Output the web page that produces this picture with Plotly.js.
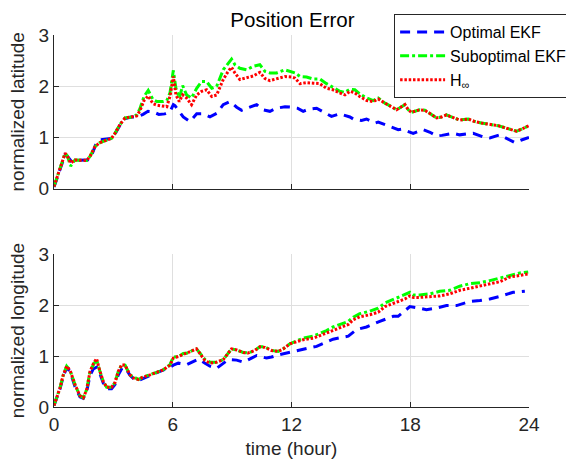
<!DOCTYPE html>
<html>
<head>
<meta charset="utf-8">
<script src="https://cdn.plot.ly/plotly-3.0.1.min.js"></script>
<style>html,body{margin:0;padding:0;background:#fff;}#chart{width:566px;height:459px;}</style>
</head>
<body>
<div id="chart"></div>
<script>
// ---------- DATA ----------
var seriesNames = ['Optimal EKF', 'Suboptimal EKF', 'H<sub>∞</sub>'];
var xTicks = [0, 6, 12, 18, 24];
var yTicks = [0, 1, 2, 3];

// Latitude (top panel)
var latTimeOpt = [0,0.3,0.56,0.7,0.9,1.1,1.4,1.7,1.9,2.1,2.3,2.6,2.9,3.1,3.35,3.6,3.9,4.2,4.5,4.75,5.0,5.3,5.6,5.86,6.03,6.11,6.28,6.53,6.87,7.21,7.54,7.88,8.22,8.55,8.89,9.23,9.48,9.9,10.24,10.57,10.91,11.25,11.67,12.0,12.3,12.59,12.85,13.27,13.77,14.02,14.44,14.95,15.12,15.54,15.79,16.21,16.38,16.8,16.97,17.39,17.56,17.9,18.15,18.65,19.0,19.33,19.6,20.17,20.5,20.93,21.18,21.77,22.02,22.52,22.86,23.28,23.62,24];
var latOpt = [0.03,0.37,0.66,0.62,0.52,0.55,0.55,0.56,0.65,0.85,0.95,0.96,0.98,1.08,1.25,1.37,1.40,1.40,1.45,1.51,1.50,1.45,1.46,1.50,1.64,1.62,1.54,1.40,1.31,1.46,1.46,1.40,1.47,1.64,1.70,1.59,1.53,1.59,1.64,1.54,1.51,1.57,1.60,1.59,1.57,1.51,1.55,1.57,1.46,1.41,1.46,1.40,1.36,1.33,1.36,1.28,1.30,1.24,1.21,1.15,1.16,1.12,1.08,1.15,1.10,1.03,1.04,1.08,1.05,1.07,1.08,1.00,0.99,1.05,0.99,0.90,0.95,1.0];

var latTime = [0,0.3,0.56,0.67,0.84,1.06,1.3,1.65,1.82,2.07,2.32,2.66,2.9,3.08,3.33,3.59,3.92,4.18,4.34,4.55,4.76,5.0,5.2,5.5,5.7,5.86,6.03,6.16,6.33,6.5,6.7,6.95,7.21,7.46,7.71,7.97,8.22,8.55,8.8,8.97,9.14,9.39,9.73,10.07,10.4,10.66,10.91,11.25,11.67,12.0,12.17,12.43,12.76,13.1,13.43,13.77,14.1,14.44,14.7,14.95,15.2,15.45,15.8,16.13,16.38,16.72,17.06,17.31,17.56,17.73,17.9,18.06,18.23,18.48,18.74,18.99,19.33,19.58,19.83,20.08,20.5,20.93,21.26,21.6,22.02,22.44,22.86,23.2,23.37,23.62,23.87,24];
var latSub = [0.04,0.37,0.69,0.64,0.44,0.56,0.55,0.55,0.63,0.82,0.9,0.95,0.98,1.08,1.25,1.38,1.40,1.44,1.56,1.8,1.92,1.74,1.70,1.70,1.72,1.87,2.31,1.96,1.77,2.01,1.83,1.77,1.96,2.09,2.09,1.96,2.0,2.32,2.45,2.53,2.42,2.35,2.32,2.39,2.42,2.29,2.26,2.26,2.32,2.28,2.26,2.19,2.18,2.14,2.14,2.05,1.98,1.90,1.88,1.94,1.93,1.85,1.77,1.72,1.77,1.67,1.60,1.54,1.60,1.64,1.54,1.49,1.51,1.54,1.53,1.47,1.38,1.40,1.44,1.40,1.34,1.36,1.31,1.28,1.26,1.23,1.18,1.14,1.12,1.16,1.21,1.23];
var latHinf = [0.04,0.37,0.69,0.64,0.50,0.56,0.55,0.55,0.63,0.82,0.9,0.95,0.98,1.08,1.25,1.38,1.40,1.42,1.52,1.72,1.81,1.66,1.63,1.61,1.60,1.80,2.19,1.83,1.70,1.83,1.77,1.64,1.83,1.90,1.93,1.80,1.83,2.13,2.29,2.37,2.26,2.13,2.16,2.20,2.27,2.15,2.11,2.15,2.19,2.18,2.16,2.05,2.07,2.06,2.05,1.96,1.93,1.87,1.83,1.90,1.87,1.80,1.72,1.70,1.75,1.67,1.60,1.54,1.60,1.64,1.54,1.49,1.51,1.54,1.53,1.47,1.38,1.40,1.44,1.40,1.34,1.36,1.31,1.28,1.26,1.23,1.18,1.14,1.12,1.16,1.21,1.23];

// Longitude (bottom panel)
var lonTimeOpt = [0,0.3,0.47,0.64,0.81,1.06,1.31,1.48,1.65,1.82,1.99,2.15,2.32,2.49,2.66,2.91,3.08,3.25,3.42,3.59,3.84,4.01,4.26,4.51,4.85,5.19,5.52,5.86,6.03,6.28,6.7,7.04,7.29,7.63,7.88,8.22,8.47,8.8,9.23,9.56,9.98,10.24,10.74,10.99,11.41,11.75,12.42,13.27,14.1,14.87,15.29,15.79,16.46,17.14,17.39,17.98,18.48,18.82,19.33,19.83,20.34,21.01,21.52,22.02,22.53,23.2,23.79];
var lonOpt = [0.03,0.35,0.60,0.77,0.70,0.40,0.20,0.17,0.30,0.62,0.75,0.78,0.65,0.47,0.36,0.36,0.44,0.63,0.75,0.78,0.62,0.56,0.52,0.56,0.61,0.66,0.71,0.78,0.82,0.86,0.83,0.90,0.94,0.86,0.80,0.76,0.83,0.93,0.92,0.88,0.96,1.01,0.96,0.98,1.03,1.06,1.12,1.19,1.33,1.39,1.52,1.57,1.68,1.78,1.78,1.97,1.94,1.91,1.94,1.99,1.99,2.07,2.09,2.12,2.17,2.25,2.27];

var lonTime = [0,0.3,0.47,0.64,0.81,1.06,1.31,1.48,1.65,1.82,1.99,2.15,2.32,2.49,2.66,2.91,3.08,3.25,3.42,3.59,3.84,4.01,4.26,4.51,4.85,5.19,5.52,5.86,6.03,6.28,6.53,6.78,7.04,7.2,7.37,7.63,7.88,8.22,8.55,8.8,8.97,9.23,9.56,9.81,10.15,10.4,10.66,10.99,11.33,11.58,11.92,12.34,12.59,13.1,13.43,13.77,14.1,14.53,14.87,15.12,15.45,15.96,16.38,16.72,17.06,17.39,17.73,17.98,18.15,18.48,18.99,19.49,20.0,20.5,21.01,21.52,22.02,22.53,23.03,23.54,23.96];
var lonSub = [0.03,0.37,0.63,0.80,0.72,0.44,0.22,0.18,0.34,0.70,0.83,0.93,0.70,0.50,0.39,0.39,0.48,0.70,0.83,0.82,0.63,0.59,0.54,0.59,0.63,0.68,0.73,0.83,0.98,0.99,1.05,1.06,1.12,1.14,1.06,0.93,0.88,0.88,0.93,1.06,1.14,1.12,1.07,1.06,1.11,1.18,1.18,1.11,1.09,1.14,1.24,1.31,1.35,1.39,1.44,1.50,1.57,1.63,1.68,1.76,1.83,1.88,1.94,2.04,2.10,2.16,2.22,2.25,2.20,2.20,2.22,2.27,2.29,2.37,2.42,2.44,2.48,2.53,2.59,2.63,2.65];
var lonHinf = [0.03,0.37,0.63,0.80,0.72,0.44,0.22,0.18,0.34,0.70,0.85,0.95,0.70,0.50,0.39,0.39,0.48,0.70,0.83,0.82,0.63,0.57,0.54,0.59,0.63,0.68,0.73,0.82,0.96,0.99,1.03,1.06,1.10,1.14,1.05,0.91,0.86,0.88,0.93,1.06,1.14,1.12,1.07,1.06,1.11,1.18,1.17,1.11,1.09,1.14,1.24,1.29,1.32,1.35,1.40,1.45,1.51,1.57,1.62,1.71,1.77,1.81,1.86,1.97,2.02,2.07,2.12,2.18,2.15,2.15,2.17,2.18,2.22,2.29,2.33,2.37,2.42,2.46,2.55,2.59,2.61];

// ---------- STYLE ----------
var FONT = 'Liberation Sans, Arial, Helvetica, sans-serif';
var AX = '#262626';
var styles = [
  {color: '#0000ff', dash: '10px,7px', width: 3},
  {color: '#00ff00', dash: '9px,3px,3px,3px', width: 3},
  {color: '#ff0000', dash: '2.5px,1.8px', width: 3}
];

function tr(x, y, i, xa, ya, show) {
  return {
    x: x, y: y, type: 'scatter', mode: 'lines', name: seriesNames[i],
    xaxis: xa, yaxis: ya, showlegend: show,
    line: {color: styles[i].color, dash: styles[i].dash, width: styles[i].width}
  };
}

var data = [
  tr(latTimeOpt, latOpt, 0, 'x', 'y', true),
  tr(latTime, latSub, 1, 'x', 'y', true),
  tr(latTime, latHinf, 2, 'x', 'y', true),
  tr(lonTimeOpt, lonOpt, 0, 'x2', 'y2', false),
  tr(lonTime, lonSub, 1, 'x2', 'y2', false),
  tr(lonTime, lonHinf, 2, 'x2', 'y2', false)
];

function xax(showLabels, anchor, titleText) {
  var a = {
    range: [0, 24], tickvals: xTicks, ticktext: xTicks.map(String),
    showticklabels: showLabels, anchor: anchor,
    showline: true, linecolor: AX, linewidth: 1, mirror: false,
    ticks: 'inside', ticklen: 5, tickcolor: AX, tickwidth: 1,
    showgrid: true, gridcolor: '#dfdfdf', gridwidth: 1, zeroline: false,
    tickfont: {family: FONT, size: 19, color: AX}
  };
  if (titleText) a.title = {text: titleText, font: {family: FONT, size: 19, color: AX}, standoff: 7};
  return a;
}
function yax(domain, anchor, titleText) {
  return {
    domain: domain, range: [0, 3], tickvals: yTicks, ticktext: yTicks.map(String),
    anchor: anchor,
    showline: true, linecolor: AX, linewidth: 1, mirror: false,
    ticks: 'inside', ticklen: 5, tickcolor: AX, tickwidth: 1,
    showgrid: true, gridcolor: '#dfdfdf', gridwidth: 1, zeroline: false,
    tickfont: {family: FONT, size: 19, color: AX},
    title: {text: titleText, font: {family: FONT, size: 19, color: AX}, standoff: 8}
  };
}

var layout = {
  width: 566, height: 459,
  paper_bgcolor: '#ffffff', plot_bgcolor: '#ffffff',
  margin: {l: 54, r: 37, t: 35, b: 52, autoexpand: false},
  showlegend: true,
  title: {text: 'Position Error', font: {family: FONT, size: 20.5, color: '#000000'},
          x: 0.502, xanchor: 'center', y: 0.957, yanchor: 'middle', xref: 'paper', yref: 'container'},
  xaxis: xax(false, 'y', null),
  yaxis: yax([0.587, 1], 'x', 'normalized latitude'),
  xaxis2: xax(true, 'y2', 'time (hour)'),
  yaxis2: yax([0, 0.411], 'x2', 'normalized longitude'),
  legend: {
    x: 0.716, y: 1.056, xanchor: 'left', yanchor: 'top',
    bgcolor: '#ffffff', bordercolor: '#262626', borderwidth: 1,
    font: {family: FONT, size: 16, color: '#000000'},
    itemwidth: 45, tracegroupgap: 0
  }
};

Plotly.newPlot('chart', data, layout, {displayModeBar: false, staticPlot: true});
</script>
</body>
</html>
